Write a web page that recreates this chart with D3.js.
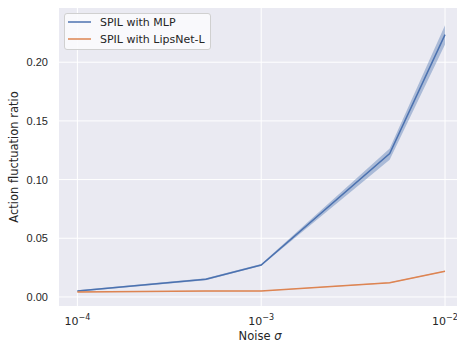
<!DOCTYPE html>
<html>
<head>
<meta charset="utf-8">
<script src="https://cdn.jsdelivr.net/npm/d3@7"></script>
<style>
  body { margin: 0; background: #fff; }
  svg { font-family: "DejaVu Sans", sans-serif; }
  .tick text { fill: #262626; }
</style>
</head>
<body>
<div id="chart"></div>
<script>
// noise levels (x) and measured ratios
const noise = [1e-4, 5e-4, 1e-3, 5e-3, 1e-2];
const mlpMean = [0.0051, 0.0151, 0.0272, 0.1222, 0.2235];
const mlpLow = [0.0045, 0.0143, 0.0265, 0.1170, 0.2150];
const mlpHigh = [0.0057, 0.0159, 0.0280, 0.1265, 0.2315];
const lipsMean = [0.0043, 0.0050, 0.0051, 0.0121, 0.0219];
const lipsLow = [0.0040, 0.0047, 0.0048, 0.0117, 0.0214];
const lipsHigh = [0.0046, 0.0053, 0.0054, 0.0125, 0.0224];
const yTicks = [0.00, 0.05, 0.10, 0.15, 0.20];
const xTicks = [1e-4, 1e-3, 1e-2];
const seriesNames = ["SPIL with MLP", "SPIL with LipsNet-L"];
const colors = ["#4c72b0", "#dd8452"];

const width = 457, height = 343;
const margin = {left: 59, top: 8, bottom: 37};
const plotRight = 463.4;

const svg = d3.select("#chart").append("svg")
    .attr("width", width)
    .attr("height", height);

const x = d3.scaleLog()
    .domain([Math.pow(10, -4.1), Math.pow(10, -1.9)])
    .range([margin.left, plotRight]);

const y = d3.scaleLinear()
    .domain([-0.0077, 0.2462])
    .range([height - margin.bottom, margin.top]);

// background
svg.append("rect")
    .attr("x", margin.left)
    .attr("y", margin.top)
    .attr("width", plotRight - margin.left)
    .attr("height", height - margin.bottom - margin.top)
    .attr("fill", "#eaeaf2");

// grid
svg.append("g").selectAll("line").data(yTicks).join("line")
    .attr("x1", margin.left).attr("x2", plotRight)
    .attr("y1", d => y(d)).attr("y2", d => y(d))
    .attr("stroke", "#fff").attr("stroke-width", 1);
svg.append("g").selectAll("line").data(xTicks).join("line")
    .attr("x1", d => x(d)).attr("x2", d => x(d))
    .attr("y1", margin.top).attr("y2", height - margin.bottom)
    .attr("stroke", "#fff").attr("stroke-width", 1);

// y axis labels
const yAxis = d3.axisLeft(y).tickValues(yTicks).tickFormat(d3.format(".2f")).tickSize(0).tickPadding(11);
svg.append("g")
    .attr("transform", `translate(${margin.left},0)`)
    .call(yAxis)
    .call(g => g.select(".domain").remove())
    .selectAll("text").attr("font-size", 11);

// x axis labels with superscripts
const xLab = svg.append("g").selectAll("text").data(xTicks).join("text")
    .attr("x", d => x(d))
    .attr("y", 325)
    .attr("text-anchor", "middle")
    .attr("fill", "#262626")
    .attr("font-size", 11);
xLab.append("tspan").text("10");
xLab.append("tspan")
    .attr("dy", -5)
    .attr("font-size", 8)
    .text(d => "\u2212" + Math.round(-Math.log10(d)));

// bands and lines
const series = [
    {mean: mlpMean, low: mlpLow, high: mlpHigh},
    {mean: lipsMean, low: lipsLow, high: lipsHigh}
];

const area = d3.area()
    .x(d => x(d.x))
    .y0(d => y(d.lo))
    .y1(d => y(d.hi));
const line = d3.line()
    .x(d => x(d.x))
    .y(d => y(d.m));

series.forEach((s, i) => {
    const pts = noise.map((n, j) => ({x: n, m: s.mean[j], lo: s.low[j], hi: s.high[j]}));
    svg.append("path").datum(pts)
        .attr("d", area)
        .attr("fill", colors[i])
        .attr("fill-opacity", 0.4);
    svg.append("path").datum(pts)
        .attr("d", line)
        .attr("fill", "none")
        .attr("stroke", colors[i])
        .attr("stroke-width", 1.5);
});

// axis titles
svg.append("text")
    .attr("x", 260)
    .attr("y", 340)
    .attr("text-anchor", "middle")
    .attr("fill", "#262626")
    .attr("font-size", 11.5)
    .call(t => {
        t.append("tspan").text("Noise ");
        t.append("tspan").attr("font-style", "italic").text("\u03c3");
    });

svg.append("text")
    .attr("transform", `translate(17.5,${(margin.top + height - margin.bottom) / 2}) rotate(-90)`)
    .attr("text-anchor", "middle")
    .attr("fill", "#262626")
    .attr("font-size", 11.5)
    .text("Action fluctuation ratio");

// legend
const lg = svg.append("g");
lg.append("rect")
    .attr("x", 64.5).attr("y", 13.5)
    .attr("width", 146).attr("height", 36)
    .attr("rx", 2.5)
    .attr("fill", "#fbfbfd")
    .attr("fill-opacity", 0.9)
    .attr("stroke", "#d0d0d0")
    .attr("stroke-width", 1);
seriesNames.forEach((name, i) => {
    const yy = 22 + i * 17;
    lg.append("line")
        .attr("x1", 68).attr("x2", 91)
        .attr("y1", yy).attr("y2", yy)
        .attr("stroke", colors[i])
        .attr("stroke-width", 1.5);
    lg.append("text")
        .attr("x", 100).attr("y", yy + 4)
        .attr("fill", "#262626")
        .attr("font-size", 11)
        .text(name);
});
</script>
</body>
</html>
